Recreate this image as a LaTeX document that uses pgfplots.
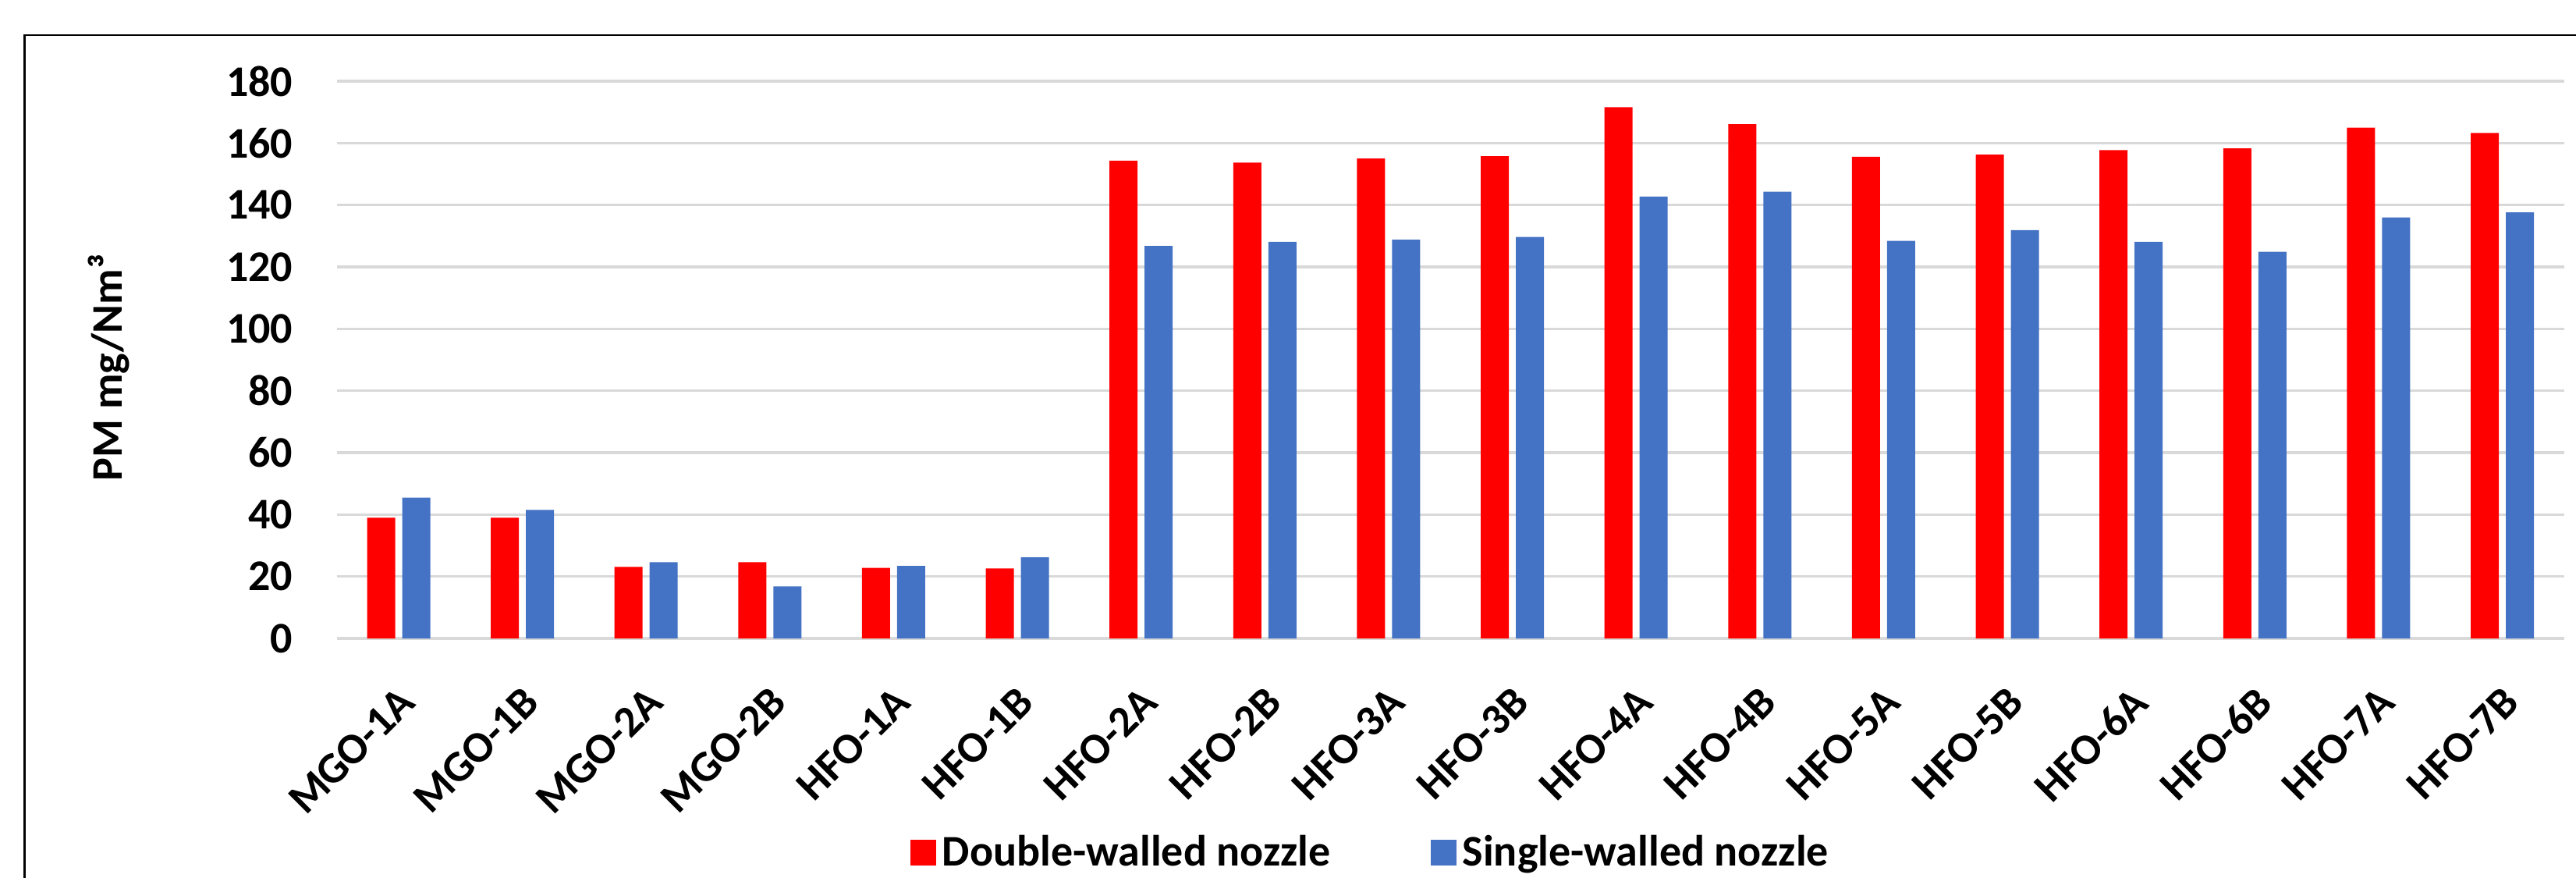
\documentclass[border=0pt]{standalone}
\usepackage{fontspec}
\setmainfont{Carlito}
\usepackage{pgfplots}
\pgfplotsset{compat=1.18}
\definecolor{dred}{HTML}{FF0000}
\definecolor{sblue}{HTML}{4472C4}
\definecolor{gridgray}{HTML}{D9D9D9}
\begin{document}
\begin{tikzpicture}
\useasboundingbox (-107.925pt,-76.75pt) rectangle (717.575pt,204.5pt);
\draw[line width=0.65pt] (-100pt,-80pt) -- (-100pt,193.25pt) -- (720pt,193.25pt);
\begin{axis}[
 at={(0,0)}, anchor=south west,
 scale only axis, width=713.8pt, height=178.5pt,
 ybar=2.25pt, bar width=9pt,
 xmin=-0.5, xmax=17.5, ymin=0, ymax=180,
 xtick={0,...,17},
 xticklabels={MGO-1A,MGO-1B,MGO-2A,MGO-2B,HFO-1A,HFO-1B,HFO-2A,HFO-2B,HFO-3A,HFO-3B,HFO-4A,HFO-4B,HFO-5A,HFO-5B,HFO-6A,HFO-6B,HFO-7A,HFO-7B},
 ytick={0,20,...,180},
 ymajorgrids, grid style={gridgray, line width=0.85pt},
 axis line style={draw=none}, major tick length=0pt,
 font=\fontsize{14}{16.8}\selectfont\bfseries,
 /pgf/number format/assume math mode=true,
 yticklabel style={anchor=east, inner sep=0pt, xshift=-13.9pt},
 xticklabel style={yshift=-14.5pt, xshift=-0.5pt, rotate=45, anchor=north east, inner sep=0pt},
 ylabel={PM mg/Nm³},
 ylabel style={at={(axis description cs:-0.1022,0.486)}, anchor=center},
 legend style={at={(axis description cs:0.465,-0.385)}, anchor=center, draw=none, fill=none,
   legend columns=2, /tikz/every even column/.append style={column sep=30pt},
   font=\fontsize{14}{16.8}\selectfont\bfseries},
 legend image code/.code={\fill[#1, draw=none] (0pt,-4.1pt) rectangle (8.25pt,4.1pt);},
]
\addplot[fill=dred, draw=none] coordinates {
(0,39.0) (1,39.0) (2,23.1) (3,24.6) (4,22.8) (5,22.6) (6,154.3) (7,153.7) (8,155.0)
(9,155.8) (10,171.6) (11,166.1) (12,155.6) (13,156.3) (14,157.7) (15,158.3) (16,165.0) (17,163.3)};
\addplot[fill=sblue, draw=none] coordinates {
(0,45.5) (1,41.5) (2,24.6) (3,16.8) (4,23.4) (5,26.2) (6,126.8) (7,128.1) (8,128.8)
(9,129.7) (10,142.7) (11,144.3) (12,128.4) (13,131.9) (14,128.1) (15,124.9) (16,136.0) (17,137.6)};
\legend{Double-walled nozzle, Single-walled nozzle}
\end{axis}
\end{tikzpicture}
\end{document}
